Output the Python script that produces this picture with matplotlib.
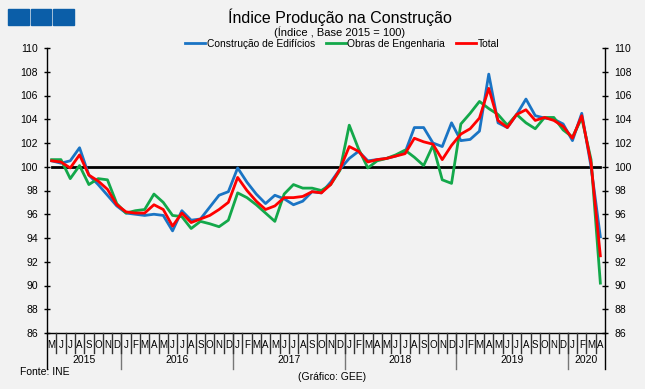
import matplotlib
matplotlib.use("Agg")
import matplotlib.pyplot as plt
from matplotlib.lines import Line2D
from matplotlib.patches import Rectangle
import matplotlib.transforms as mtransforms

plt.rcParams['font.family'] = ['Liberation Sans', 'DejaVu Sans']

months = ["M", "J", "J", "A", "S", "O", "N", "D"] + \
         ["J", "F", "M", "A", "M", "J", "J", "A", "S", "O", "N", "D"] * 4 + \
         ["J", "F", "M", "A"]
years = ["2015", "2016", "2017", "2018", "2019", "2020"]
year_counts = [8, 12, 12, 12, 12, 4]

edificios = [100.5, 100.3, 100.5, 101.6, 99.3, 98.5, 97.6, 96.7,
             96.1, 96.0, 95.9, 96.0, 95.9, 94.6, 96.3, 95.5, 95.6, 96.6, 97.6, 97.9,
             99.9, 98.7, 97.7, 96.9, 97.6, 97.3, 96.8, 97.1, 97.9, 97.8, 98.7, 99.8,
             100.7, 101.3, 100.5, 100.6, 100.7, 100.9, 101.2, 103.3, 103.3, 102.0, 101.7, 103.7,
             102.2, 102.3, 103.0, 107.8, 103.7, 103.3, 104.4, 105.7, 104.3, 104.1, 104.0, 103.6,
             102.2, 104.5, 100.0, 94.1]
engenharia = [100.6, 100.6, 99.0, 100.1, 98.5, 99.0, 98.9, 96.9,
              96.1, 96.3, 96.4, 97.7, 97.0, 95.9, 95.8, 94.8, 95.4, 95.2, 94.95, 95.5,
              97.8, 97.4, 96.8, 96.1, 95.4, 97.7, 98.5, 98.2, 98.2, 98.0, 98.5, 99.7,
              103.5, 101.5, 99.9, 100.5, 100.7, 101.0, 101.4, 100.8, 100.1, 101.8, 98.9, 98.6,
              103.6, 104.5, 105.5, 104.9, 104.4, 103.5, 104.4, 103.7, 103.2, 104.15, 104.15, 103.1,
              102.5, 104.1, 100.6, 90.2]
total = [100.5, 100.4, 99.9, 101.0, 99.3, 98.8, 98.1, 96.8,
         96.2, 96.1, 96.1, 96.8, 96.4, 95.0, 96.1, 95.3, 95.6, 95.9, 96.4, 97.0,
         99.1, 98.0, 97.1, 96.4, 96.7, 97.4, 97.4, 97.5, 97.9, 97.8, 98.5, 99.8,
         101.7, 101.3, 100.4, 100.6, 100.7, 100.9, 101.1, 102.4, 102.1, 101.9, 100.6, 101.8,
         102.75, 103.2, 104.1, 106.6, 103.9, 103.3, 104.4, 104.8, 103.9, 104.15, 103.9, 103.4,
         102.4, 104.3, 100.3, 92.5]
base = [100] * len(total)

W, H = 645, 389
bg = "#f2f2f2"
fig = plt.figure(figsize=(W / 100, H / 100), dpi=100, facecolor=bg)
L, R, T, B = 47, 605, 48, 333
ax = fig.add_axes([L / W, 1 - B / H, (R - L) / W, (B - T) / H], facecolor=bg)

x = list(range(len(total)))
ax.plot(x, base, color="black", lw=2.0, zorder=2)
ax.plot(x, edificios, color="#1a74c4", lw=2.0, label="Construção de Edifícios", zorder=3)
ax.plot(x, engenharia, color="#13a84a", lw=2.0, label="Obras de Engenharia", zorder=3)
ax.plot(x, total, color="#ff0000", lw=2.0, label="Total", zorder=4)

ax.set_xlim(-0.5, len(total) - 0.5)
ax.set_ylim(86, 110)
ax.set_yticks(range(86, 111, 2))
ax.tick_params(axis="y", which="major", direction="inout", length=5, width=1,
               labelsize=7.5, left=True, right=True, labelleft=True, labelright=True, pad=4)
ax.spines["top"].set_visible(False)
for s in ["left", "right", "bottom"]:
    ax.spines[s].set_color("black")
    ax.spines[s].set_linewidth(1)

ax.set_xticks(x)
ax.set_xticklabels(months, fontsize=7)
ax.tick_params(axis="x", which="major", length=0, pad=5)

trans = mtransforms.blended_transform_factory(ax.transData, ax.transAxes)
# month separators
for i in range(1, len(total)):
    ax.add_line(Line2D([i - 0.5, i - 0.5], [0, -20 / (B - T)], transform=trans,
                       color="#333333", lw=1.0, clip_on=False, zorder=5))
start = 0
bounds = [-0.5]
for yr, c in zip(years, year_counts):
    ax.text(start + c / 2 - 0.5, -0.095, yr, transform=trans, ha="center", va="center",
            fontsize=7.5)
    start += c
    bounds.append(start - 0.5)
for b in bounds:
    col = "black" if b in (-0.5, len(total) - 0.5) else "#777777"
    ax.add_line(Line2D([b, b], [0, -36 / (B - T)], transform=trans, color=col, lw=1, clip_on=False))

fig.text(340 / W, 1 - 17 / H, "Índice Produção na Construção", ha="center", va="center", fontsize=11.5)
fig.text(340 / W, 1 - 32 / H, "(Índice , Base 2015 = 100)", ha="center", va="center", fontsize=8)
fig.legend(loc="center", bbox_to_anchor=(342 / W, 1 - 44 / H), ncol=3, frameon=False,
           prop={"size": 7.4}, handlelength=1.95, handletextpad=0.15,
           columnspacing=1.05, borderpad=0)
fig.text(20 / W, 1 - 372 / H, "Fonte: INE", ha="left", va="center", fontsize=7.5)
fig.text(332 / W, 1 - 377 / H, "(Gráfico: GEE)", ha="center", va="center", fontsize=7.5)

for i in range(3):
    fig.patches.append(Rectangle(((8 + i * 22.5) / W, 1 - 25 / H), 20.5 / W, 16 / H,
                                 transform=fig.transFigure, color="#0b5ea8", zorder=5))

fig.savefig("out.png", dpi=100, facecolor=bg)
